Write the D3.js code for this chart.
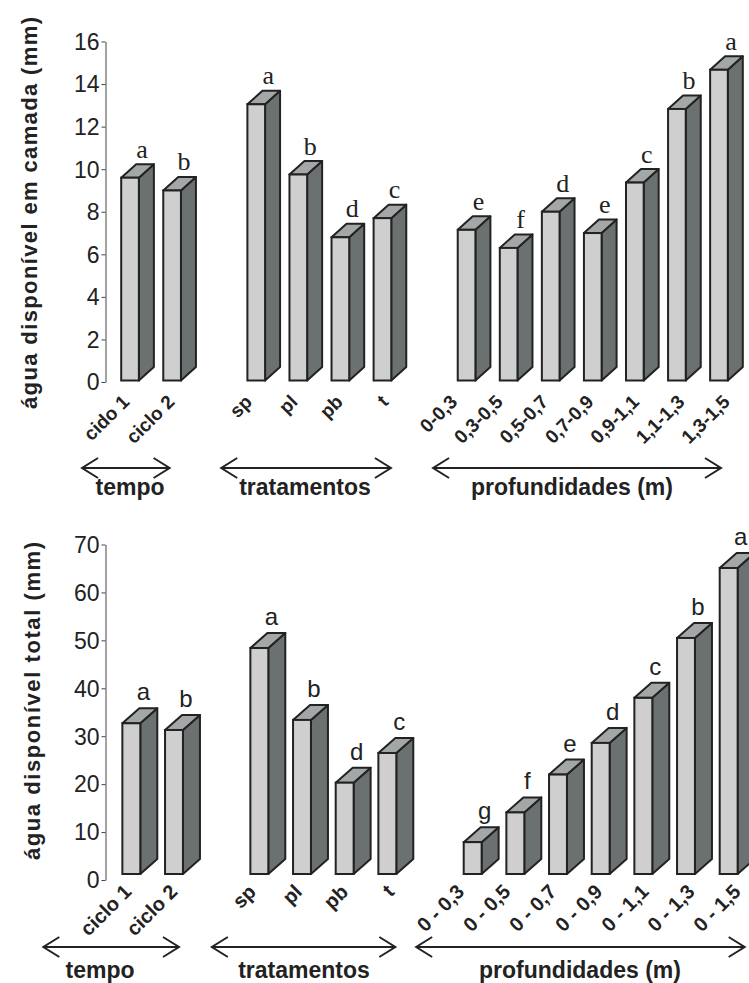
<!DOCTYPE html>
<html>
<head>
<meta charset="utf-8">
<script src="https://cdn.jsdelivr.net/npm/d3@7/dist/d3.min.js"></script>
<style>
  html, body { margin: 0; padding: 0; background: #fff; }
  svg { display: block; }
</style>
</head>
<body>
<svg id="chart" width="749" height="983"></svg>
<script>
// ---------- DATA ----------
const topCategories = ["cido 1","ciclo 2","sp","pl","pb","t","0-0,3","0,3-0,5","0,5-0,7","0,7-0,9","0,9-1,1","1,1-1,3","1,3-1,5"];
const topValues     = [9.6, 9.0, 13.05, 9.75, 6.8, 7.7, 7.15, 6.3, 8.0, 7.0, 9.37, 12.83, 14.67];
const topLetters    = ["a","b","a","b","d","c","e","f","d","e","c","b","a"];
const topTicks      = [0, 2, 4, 6, 8, 10, 12, 14, 16];

const bottomCategories = ["ciclo 1","ciclo 2","sp","pl","pb","t","0 - 0,3","0 - 0,5","0 - 0,7","0 - 0,9","0 - 1,1","0 - 1,3","0 - 1,5"];
const bottomValues     = [32.7, 31.3, 48.4, 33.4, 20.3, 26.5, 7.9, 14.1, 22.0, 28.6, 38.0, 50.5, 65.1];
const bottomLetters    = ["a","b","a","b","d","c","g","f","e","d","c","b","a"];
const bottomTicks      = [0, 10, 20, 30, 40, 50, 60, 70];

const groupNames = ["tempo", "tratamentos", "profundidades (m)"];
const groupSizes = [2, 4, 7];

// ---------- STYLE ----------
const C = { front: "#cfcfcf", side: "#6b7171", top: "#a3a7a7", stroke: "#222", axis: "#444", text: "#222" };
const SANS = "'Liberation Sans', Arial, sans-serif";

const svg = d3.select("#chart");

function slotDomain(cats) {
  const dom = []; let i = 0;
  groupSizes.forEach((n, g) => {
    if (g > 0) dom.push("__gap" + g);
    for (let k = 0; k < n; k++) dom.push(cats[i++]);
  });
  return dom;
}

function drawChart(cfg) {
  const g = svg.append("g");
  const x = d3.scaleBand().domain(slotDomain(cfg.categories)).range(cfg.xRange)
    .paddingInner(0.58).paddingOuter(0.29);
  const y = d3.scaleLinear().domain([0, cfg.ticks[cfg.ticks.length - 1]]).range(cfg.yRange);

  const ax = g.append("g").attr("transform", `translate(${cfg.axisX},0)`)
    .call(d3.axisLeft(y).tickValues(cfg.ticks).tickSize(4).tickSizeOuter(0).tickPadding(2));
  ax.select(".domain").attr("stroke", C.axis).attr("stroke-width", 1);
  ax.selectAll(".tick line").attr("stroke", C.axis);
  ax.selectAll(".tick text").attr("font-family", SANS)
    .attr("font-size", 23).attr("fill", C.text).attr("dy", "0.34em");

  g.append("text").attr("transform", `translate(${cfg.titleX},${cfg.titleY}) rotate(-90)`)
    .attr("text-anchor", "middle").attr("font-family", SANS)
    .attr("font-weight", "bold").attr("font-size", 22).attr("fill", C.text)
    .attr("textLength", cfg.titleLen).attr("lengthAdjust", "spacing")
    .text(cfg.title);

  const bw = x.bandwidth(), dx = cfg.dx, dy = cfg.dy;
  const floor = y(0) - cfg.floorOffset;

  // group membership + group centers (for label spreading)
  const groupOf = [];
  groupSizes.forEach((n, gi) => { for (let k = 0; k < n; k++) groupOf.push(gi); });
  let start = 0;
  const groupCenter = groupSizes.map(n => {
    const a = x(cfg.categories[start]), b = x(cfg.categories[start + n - 1]);
    start += n;
    return (a + b) / 2 + bw / 2;
  });

  const data = cfg.categories.map((c, i) => ({ c, v: cfg.values[i], l: cfg.letters[i], g: groupOf[i] }));

  const bars = g.append("g").selectAll("g").data(data).join("g");
  bars.each(function (d) {
    const s = d3.select(this);
    const x0 = x(d.c), x1 = x0 + bw, yt = y(d.v), xc = x0 + bw / 2;
    s.append("path").attr("d", `M${x1},${yt}L${x1 + dx},${yt + dy}L${x1 + dx},${floor + dy}L${x1},${floor}Z`)
      .attr("fill", C.side).attr("stroke", C.stroke).attr("stroke-width", 2).attr("stroke-linejoin", "round");
    s.append("path").attr("d", `M${x0},${yt}L${x0 + dx},${yt + dy}L${x1 + dx},${yt + dy}L${x1},${yt}Z`)
      .attr("fill", C.top).attr("stroke", C.stroke).attr("stroke-width", 2).attr("stroke-linejoin", "round");
    s.append("rect").attr("x", x0).attr("y", yt).attr("width", bw).attr("height", floor - yt)
      .attr("fill", C.front).attr("stroke", C.stroke).attr("stroke-width", 2);
    s.append("text").attr("x", xc + cfg.letterDx).attr("y", yt + cfg.letterDy)
      .attr("text-anchor", "middle").attr("font-family", cfg.letterFont)
      .attr("font-size", cfg.letterSize).attr("fill", C.text).text(d.l);
    const gc = groupCenter[d.g];
    const lx = gc + (xc - gc) * cfg.labelSpread + cfg.labelDx;
    s.append("text")
      .attr("transform", `translate(${lx},${cfg.labelY}) rotate(-45)`)
      .attr("text-anchor", "end").attr("font-family", SANS)
      .attr("font-weight", "bold").attr("font-size", cfg.labelSize).attr("fill", C.text).text(d.c);
  });

  let idx = 0;
  groupNames.forEach((name, gi) => {
    const first = cfg.categories[idx], last = cfg.categories[idx + groupSizes[gi] - 1];
    idx += groupSizes[gi];
    const xa = x(first) + bw / 2 + cfg.arrows[gi][0];
    const xb = x(last) + bw / 2 + cfg.arrows[gi][1];
    const ya = cfg.arrowY;
    const ag = g.append("g").attr("fill", "none").attr("stroke", C.stroke).attr("stroke-width", 2);
    ag.append("line").attr("x1", xa).attr("x2", xb).attr("y1", ya).attr("y2", ya);
    ag.append("path").attr("d", `M${xa + 16},${ya - 10}L${xa},${ya}L${xa + 16},${ya + 10}`);
    ag.append("path").attr("d", `M${xb - 16},${ya - 10}L${xb},${ya}L${xb - 16},${ya + 10}`);
    g.append("text").attr("x", cfg.groupLabelX[gi]).attr("y", cfg.groupLabelY)
      .attr("text-anchor", "middle").attr("font-family", SANS)
      .attr("font-weight", "bold").attr("font-size", 23).attr("fill", C.text).text(name);
  });
}

drawChart({
  categories: topCategories, values: topValues, letters: topLetters, ticks: topTicks,
  xRange: [109, 740], yRange: [382, 41.5], axisX: 105.5,
  title: "água disponível em camada  (mm)", titleX: 37, titleY: 213, titleLen: 392,
  dx: 15, dy: -13.5, floorOffset: 1.5,
  letterDx: 12, letterDy: -20, letterFont: "'Liberation Serif', 'Times New Roman', serif", letterSize: 26,
  labelDx: 2, labelSpread: 1.08, labelY: 403, labelSize: 19,
  arrows: [[-48, -2.5], [-35, 8.5], [-33.5, 2]], arrowY: 468,
  groupLabelX: [130, 305, 572], groupLabelY: 495
});

drawChart({
  categories: bottomCategories, values: bottomValues, letters: bottomLetters, ticks: bottomTicks,
  xRange: [110, 750], yRange: [880, 544.5], axisX: 105.5,
  title: "água disponível total (mm)", titleX: 40, titleY: 701, titleLen: 318,
  dx: 17, dy: -15, floorOffset: 6,
  letterDx: 12, letterDy: -23, letterFont: SANS, letterSize: 24,
  labelDx: 3, labelSpread: 1.08, labelY: 893, labelSize: 20,
  arrows: [[-88, 5], [-47.5, 8], [-56.5, 16]], arrowY: 947,
  groupLabelX: [100, 304, 580], groupLabelY: 978
});
</script>
</body>
</html>
